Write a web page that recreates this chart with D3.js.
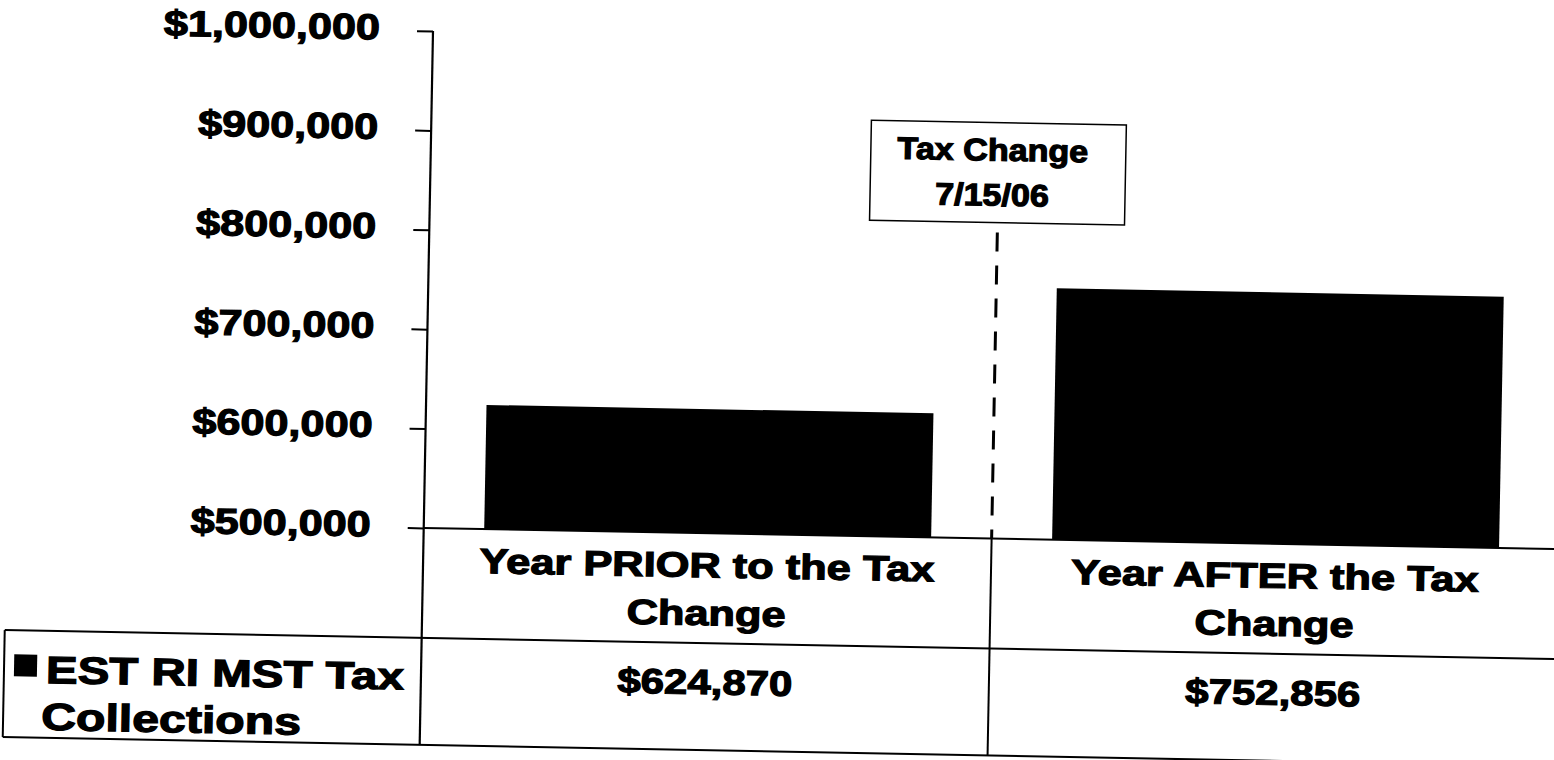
<!DOCTYPE html>
<html>
<head>
<meta charset="utf-8">
<script src="https://cdn.jsdelivr.net/npm/d3@7"></script>
<style>
  html, body { margin: 0; padding: 0; background: #fff; }
  svg { display: block; }
  text { font-family: "Liberation Sans", Arial, sans-serif; font-weight: bold; fill: #000; stroke: #000; stroke-width: 1.2; }
</style>
</head>
<body>
<div id="chart"></div>
<script>
const WIDTH  = 1554
const HEIGHT = 760

// data
const categories     = ['Year PRIOR to the Tax Change', 'Year AFTER the Tax Change']
const categoryLines  = [['Year PRIOR to the Tax', 'Change'], ['Year AFTER the Tax', 'Change']]
const collections    = [624870, 752856]
const yTicks         = [500000, 600000, 700000, 800000, 900000, 1000000]
const seriesLabel    = ['EST RI MST Tax', 'Collections']
const annotation     = ['Tax Change', '7/15/06']

// layout (page was scanned a bit crooked, so everything sits in a rotated group)
const AXIS_X    = 433
const TOP_Y     = 31
const BASE_Y    = 528
const ROW_Y     = 638
const BOTTOM_Y  = 745
const TABLE_L   = 16
const RIGHT_X   = 1600
const STRETCH   = 1.2

const svg = d3.select('#chart').append('svg')
    .attr('width', WIDTH)
    .attr('height', HEIGHT)

svg.append('rect')
    .attr('width', WIDTH)
    .attr('height', HEIGHT)
    .attr('fill', '#fff')

const root = svg.append('g')
    .attr('transform', `rotate(1.07, ${AXIS_X}, ${TOP_Y})`)

const x = d3.scaleBand()
    .domain(categories)
    .range([AXIS_X, AXIS_X + 2 * 568])

const y = d3.scaleLinear()
    .domain([500000, 1000000])
    .range([BASE_Y, TOP_Y])

const label = (g, str, px, py, size, anchor, k = STRETCH) =>
    g.append('text')
        .attr('transform', `translate(${px}, ${py}) scale(${k}, 1)`)
        .attr('text-anchor', anchor)
        .style('font-size', size + 'px')
        .text(str)

// bars
const barW = x.bandwidth() * 0.787
root.selectAll('.bar')
    .data(collections)
    .join('rect')
    .attr('class', 'bar')
    .attr('x', (d, i) => x(categories[i]) + (x.bandwidth() - barW) / 2)
    .attr('y', d => y(d))
    .attr('width', barW)
    .attr('height', d => BASE_Y - y(d))
    .attr('fill', '#000')

// y axis
const yAxis = root.append('g')
    .attr('transform', `translate(${AXIS_X}, 0)`)
    .call(d3.axisLeft(y).tickValues(yTicks).tickSize(16).tickFormat(d3.format('$,')))

yAxis.select('.domain').remove()
yAxis.selectAll('.tick line').attr('stroke', '#000').attr('stroke-width', 2)
yAxis.selectAll('.tick text')
    .attr('x', null)
    .attr('dy', null)
    .attr('transform', 'translate(-53, 9) scale(1.2, 1)')
    .style('font-size', '36px')

// axis line runs down into the data table
root.append('line')
    .attr('x1', AXIS_X).attr('x2', AXIS_X)
    .attr('y1', TOP_Y).attr('y2', BOTTOM_Y)
    .attr('stroke', '#000').attr('stroke-width', 2.2)

// table lines
const tableLines = [
    [AXIS_X, BASE_Y, RIGHT_X, BASE_Y],
    [TABLE_L, ROW_Y, RIGHT_X, ROW_Y],
    [TABLE_L, BOTTOM_Y, RIGHT_X, BOTTOM_Y],
    [TABLE_L, ROW_Y, TABLE_L, BOTTOM_Y],
    [x(categories[1]), BASE_Y, x(categories[1]), BOTTOM_Y]
]
root.selectAll('.tline')
    .data(tableLines)
    .join('line')
    .attr('class', 'tline')
    .attr('x1', d => d[0]).attr('y1', d => d[1])
    .attr('x2', d => d[2]).attr('y2', d => d[3])
    .attr('stroke', '#000')
    .attr('stroke-width', 2)

// category labels
categoryLines.forEach((lines, i) => {
    const cx = x(categories[i]) + x.bandwidth() / 2
    lines.forEach((s, j) => label(root, s, cx, 572 + j * 48, 35, 'middle', 1.24))
    label(root, d3.format('$,')(collections[i]), cx, 689, 35, 'middle')
})

// legend cell
root.append('rect')
    .attr('x', 26).attr('y', 662)
    .attr('width', 23).attr('height', 22)
    .attr('fill', '#000')
label(root, seriesLabel[0], 58, 690, 38, 'start', 1.25)
label(root, seriesLabel[1], 54, 737, 38, 'start', 1.27)

// tax change marker
const divX = x(categories[1])
root.append('line')
    .attr('x1', divX).attr('x2', divX)
    .attr('y1', 222).attr('y2', BASE_Y)
    .attr('stroke', '#000')
    .attr('stroke-width', 3)
    .attr('stroke-dasharray', '19,14')

root.append('rect')
    .attr('x', divX - 128).attr('y', 112)
    .attr('width', 255).attr('height', 100)
    .attr('fill', '#fff')
    .attr('stroke', '#000')
    .attr('stroke-width', 1.5)

annotation.forEach((s, i) => label(root, s, divX - 6, 150 + i * 45, 31, 'middle', 1.1))
</script>
</body>
</html>
